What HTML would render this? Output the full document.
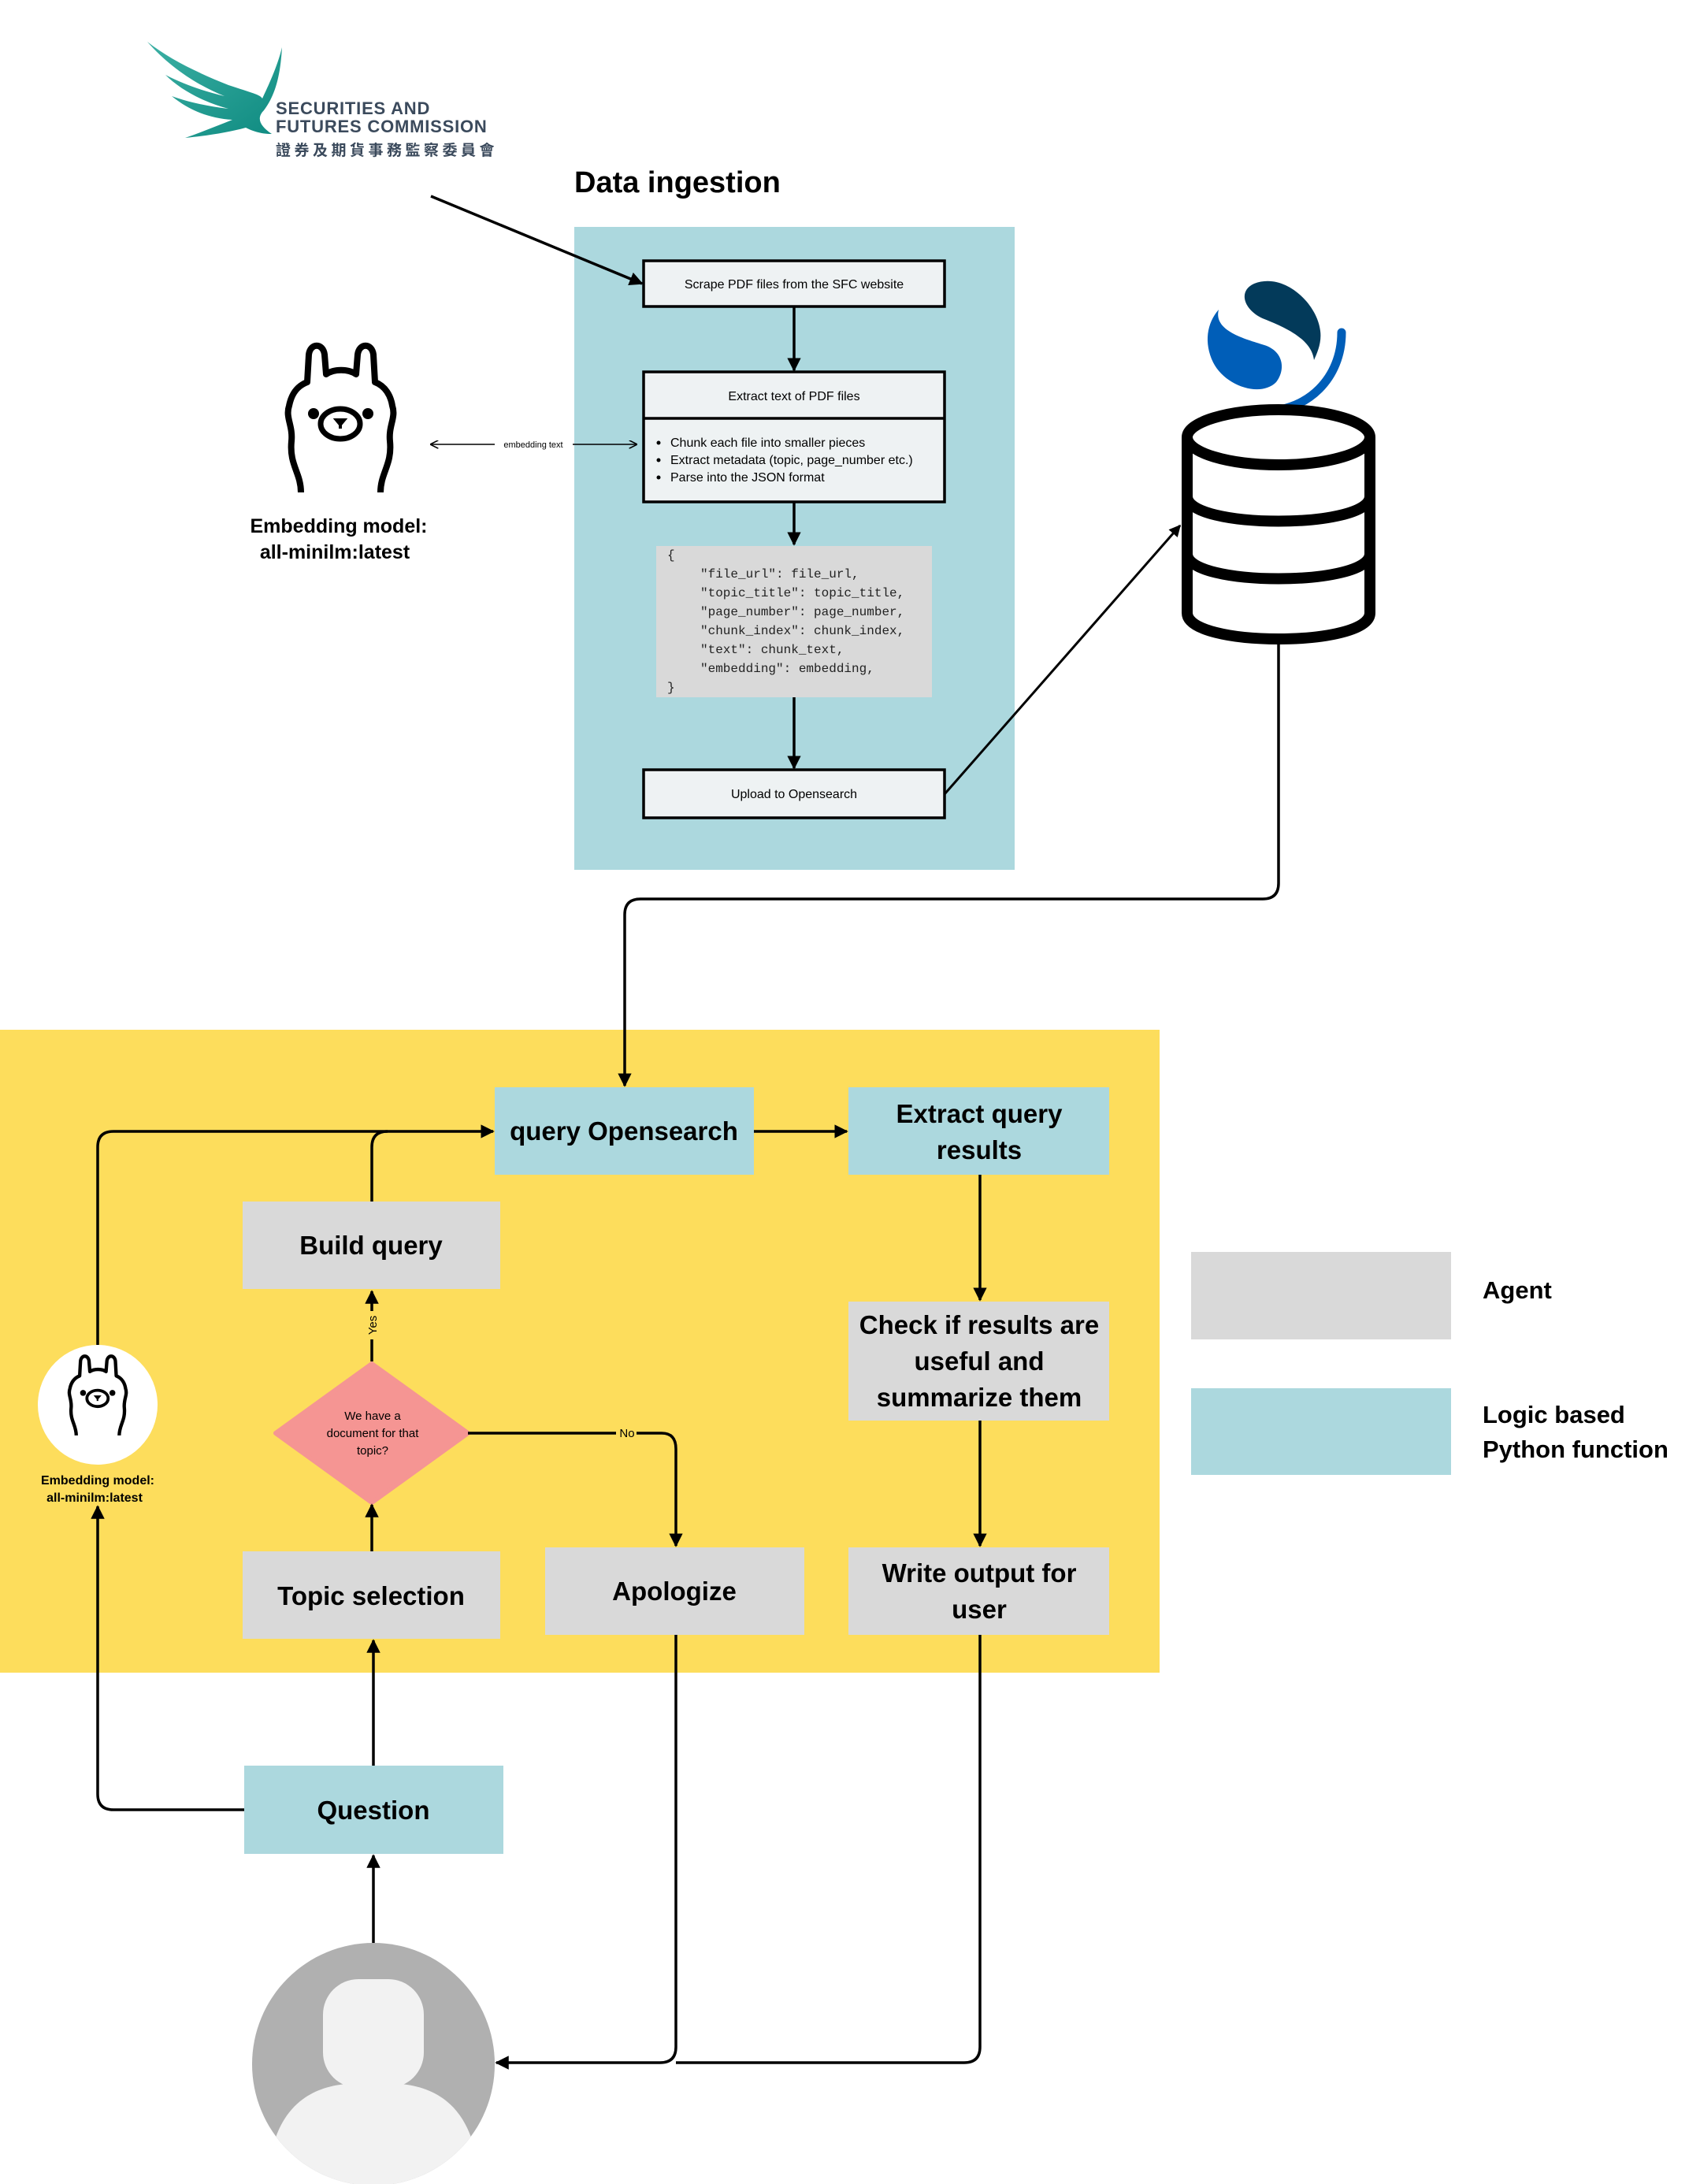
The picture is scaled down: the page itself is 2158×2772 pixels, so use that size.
<!DOCTYPE html>
<html><head><meta charset="utf-8">
<style>
html,body{margin:0;padding:0;background:#fff;}
svg{display:block;}
text{font-family:"Liberation Sans","Noto Sans CJK TC",sans-serif;}
text.mono{font-family:"Liberation Mono",monospace;}
</style></head>
<body>
<svg width="2158" height="2772" viewBox="0 0 2158 2772" xmlns="http://www.w3.org/2000/svg">
<defs>
<marker id="ah" viewBox="0 0 10 10" refX="9" refY="5" markerWidth="5" markerHeight="5" orient="auto-start-reverse">
<path d="M0,0 L10,5 L0,10 z" fill="#000"/></marker>
<marker id="ahs" viewBox="0 0 10 10" refX="9" refY="5" markerWidth="7" markerHeight="7" orient="auto-start-reverse">
<path d="M0,0 L10,5 L0,10" fill="none" stroke="#000" stroke-width="1.5"/></marker>
<linearGradient id="bird" x1="0" y1="0" x2="1" y2="1"><stop offset="0" stop-color="#3cb0a4"/><stop offset="1" stop-color="#0e8a80"/></linearGradient>
<g id="llama">
<path d="M20 185 C20 160,5 150,8 120 C10 100,0 90,5 75 C8 60,15 50,28 45 L30 10 C32 -5,48 -5,50 10 L52 35 C62 28,80 28,90 35 L92 10 C94 -5,110 -5,112 10 L114 45 C127 50,134 62,136 75 C141 90,131 100,133 120 C136 150,121 160,121 185" fill="#fff" stroke="#000" stroke-width="8" stroke-linejoin="round"/>
<circle cx="36" cy="85" r="7"/><circle cx="105" cy="85" r="7"/>
<ellipse cx="70" cy="98" rx="25" ry="19" fill="#fff" stroke="#000" stroke-width="7"/>
<path d="M65 93 L75 93 L70 99 Z M70 96 L70 104" stroke="#000" stroke-width="4"/>
</g>
</defs>

<!-- SFC logo -->
<path d="M187 53 C215 75,250 92,290 108 C320 118,330 120,333 125 C340 110,352 85,358 60 C356 95,350 120,335 140 C325 150,330 160,345 170 C330 170,320 166,312 162 C290 168,265 172,235 175 C255 168,275 160,295 152 C265 150,240 140,218 122 C240 130,265 135,290 138 C260 130,230 115,210 95 C235 108,260 116,285 122 C250 108,215 85,187 53 Z" fill="url(#bird)"/>
<text x="350" y="145" font-size="22" font-weight="bold" fill="#3b4a5c" letter-spacing="0.8">SECURITIES AND</text>
<text x="350" y="168" font-size="22" font-weight="bold" fill="#3b4a5c" letter-spacing="0.8">FUTURES COMMISSION</text>
<text x="350" y="197" font-size="19" font-weight="bold" fill="#3b4a5c" letter-spacing="4.5">證券及期貨事務監察委員會</text>

<text x="729" y="244" font-size="38" font-weight="bold" fill="#000">Data ingestion</text>

<!-- ingestion panel -->
<rect x="729" y="288" width="559" height="816" fill="#acd8de"/>
<line x1="547" y1="249" x2="815" y2="360" stroke="#000" stroke-width="3.5" marker-end="url(#ah)"/>

<rect x="817" y="331" width="382" height="58" fill="#eef2f3" stroke="#000" stroke-width="3.5"/>
<text x="1008" y="366" font-size="16" text-anchor="middle">Scrape PDF files from the SFC website</text>
<line x1="1008" y1="389" x2="1008" y2="470" stroke="#000" stroke-width="3.5" marker-end="url(#ah)"/>

<rect x="817" y="472" width="382" height="165" fill="#eef2f3" stroke="#000" stroke-width="3.5"/>
<line x1="817" y1="531" x2="1199" y2="531" stroke="#000" stroke-width="3.5"/>
<text x="1008" y="508" font-size="16" text-anchor="middle">Extract text of PDF files</text>
<g font-size="16"><circle cx="836" cy="562" r="2.5"/><text x="851" y="567">Chunk each file into smaller pieces</text>
<circle cx="836" cy="584" r="2.5"/><text x="851" y="589">Extract metadata (topic, page_number etc.)</text>
<circle cx="836" cy="606" r="2.5"/><text x="851" y="611">Parse into the JSON format</text></g>
<line x1="1008" y1="637" x2="1008" y2="691" stroke="#000" stroke-width="3.5" marker-end="url(#ah)"/>

<rect x="833" y="693" width="350" height="192" fill="#d9d9d9"/>
<g font-size="16" fill="#222">
<text class="mono" x="847" y="709">{</text>
<text class="mono" x="889" y="733">"file_url": file_url,</text>
<text class="mono" x="889" y="757">"topic_title": topic_title,</text>
<text class="mono" x="889" y="781">"page_number": page_number,</text>
<text class="mono" x="889" y="805">"chunk_index": chunk_index,</text>
<text class="mono" x="889" y="829">"text": chunk_text,</text>
<text class="mono" x="889" y="853">"embedding": embedding,</text>
<text class="mono" x="847" y="877">}</text>
</g>
<line x1="1008" y1="885" x2="1008" y2="975" stroke="#000" stroke-width="3.5" marker-end="url(#ah)"/>

<rect x="817" y="977" width="382" height="61" fill="#eef2f3" stroke="#000" stroke-width="3.5"/>
<text x="1008" y="1013" font-size="16" text-anchor="middle">Upload to Opensearch</text>
<line x1="1199" y1="1008" x2="1498" y2="667" stroke="#000" stroke-width="3" marker-end="url(#ah)"/>

<!-- embedding text arrow -->
<line x1="628" y1="564" x2="547" y2="564" stroke="#000" stroke-width="1.5" marker-end="url(#ahs)"/>
<line x1="727" y1="564" x2="808" y2="564" stroke="#000" stroke-width="1.5" marker-end="url(#ahs)"/>
<text x="677" y="568" font-size="11" text-anchor="middle">embedding text</text>

<!-- llama big -->
<use href="#llama" x="362" y="440"/>
<text x="430" y="676" font-size="25" font-weight="bold" text-anchor="middle">Embedding model:</text>
<text x="425" y="709" font-size="25" font-weight="bold" text-anchor="middle">all-minilm:latest</text>

<!-- opensearch logo -->
<path d="M1592 360 C1630 345,1672 385,1676 420 C1678 435,1672 448,1668 457 C1665 430,1630 415,1605 405 C1580 395,1570 370,1592 360 Z" fill="#033a5a"/>
<path d="M1547 393 C1540 420,1580 430,1605 438 C1630 446,1632 470,1620 485 C1600 505,1555 490,1540 460 C1528 435,1532 410,1547 393 Z" fill="#005eb8"/>
<path d="M1703 422 C1703 480,1660 522,1604 522" fill="none" stroke="#005eb8" stroke-width="11" stroke-linecap="round"/>

<!-- database -->
<g fill="#fff" stroke="#000" stroke-width="14">
<path d="M1507 555 L1507 778 C1507 822,1739 822,1739 778 L1739 555"/>
<ellipse cx="1623" cy="555" rx="116" ry="35"/>
<path d="M1507 630 C1507 672,1739 672,1739 630" fill="none"/>
<path d="M1507 703 C1507 745,1739 745,1739 703" fill="none"/>
</g>

<!-- yellow panel -->
<rect x="0" y="1307" width="1472" height="816" fill="#fddd5c"/>

<!-- connector DB to query -->
<path d="M1623 815 L1623 1121 Q1623 1141 1603 1141 L813 1141 Q793 1141 793 1161 L793 1378" fill="none" stroke="#000" stroke-width="3.5" marker-end="url(#ah)"/>

<g font-weight="bold" font-size="33" text-anchor="middle">
<rect x="628" y="1380" width="329" height="111" fill="#acd8de"/>
<text x="792" y="1447">query Opensearch</text>
<rect x="1077" y="1380" width="331" height="111" fill="#acd8de"/>
<text x="1243" y="1425">Extract query</text><text x="1243" y="1471">results</text>
<rect x="308" y="1525" width="327" height="111" fill="#d9d9d9"/>
<text x="471" y="1592">Build query</text>
<rect x="1077" y="1652" width="331" height="151" fill="#d9d9d9"/>
<text x="1243" y="1693">Check if results are</text><text x="1243" y="1739">useful and</text><text x="1243" y="1785">summarize them</text>
<rect x="308" y="1969" width="327" height="111" fill="#d9d9d9"/>
<text x="471" y="2037">Topic selection</text>
<rect x="692" y="1964" width="329" height="111" fill="#d9d9d9"/>
<text x="856" y="2031">Apologize</text>
<rect x="1077" y="1964" width="331" height="111" fill="#d9d9d9"/>
<text x="1243" y="2008">Write output for</text><text x="1243" y="2054">user</text>
<rect x="310" y="2241" width="329" height="112" fill="#acd8de"/>
<text x="474" y="2309">Question</text>
</g>

<!-- diamond -->
<path d="M472 1731 L594 1819 L472 1907 L350 1819 Z" fill="#f59593" stroke="#f59593" stroke-width="6" stroke-linejoin="round"/>
<g font-size="15" text-anchor="middle"><text x="473" y="1802">We have a</text><text x="473" y="1824">document for that</text><text x="473" y="1846">topic?</text></g>

<!-- connectors lower -->
<g fill="none" stroke="#000" stroke-width="3.5">
<line x1="957" y1="1436" x2="1075" y2="1436" marker-end="url(#ah)"/>
<path d="M124 1707 L124 1456 Q124 1436 144 1436 L626 1436" marker-end="url(#ah)"/>
<path d="M472 1525 L472 1456 Q472 1436 492 1436"/>
<line x1="472" y1="1728" x2="472" y2="1700"/>
<line x1="472" y1="1664" x2="472" y2="1639" marker-end="url(#ah)"/>
<line x1="594" y1="1819" x2="782" y2="1819"/>
<path d="M808 1819 L840 1819 Q858 1819 858 1839 L858 1962" marker-end="url(#ah)"/>
<line x1="472" y1="1969" x2="472" y2="1910" marker-end="url(#ah)"/>
<line x1="474" y1="2241" x2="474" y2="2082" marker-end="url(#ah)"/>
<path d="M310 2297 L144 2297 Q124 2297 124 2277 L124 1912" marker-end="url(#ah)"/>
<line x1="474" y1="2466" x2="474" y2="2355" marker-end="url(#ah)"/>
<line x1="1244" y1="1491" x2="1244" y2="1650" marker-end="url(#ah)"/>
<line x1="1244" y1="1803" x2="1244" y2="1962" marker-end="url(#ah)"/>
<path d="M858 2075 L858 2598 Q858 2618 838 2618 L630 2618" marker-end="url(#ah)"/>
<path d="M1244 2075 L1244 2598 Q1244 2618 1224 2618 L858 2618"/>
</g>
<text x="796" y="1824" font-size="15" text-anchor="middle">No</text>
<text transform="translate(478,1682) rotate(-90)" font-size="15" text-anchor="middle">Yes</text>

<!-- small llama -->
<circle cx="124" cy="1783" r="76" fill="#fff"/>
<use href="#llama" transform="translate(86,1722) scale(0.54)"/>
<g font-size="16" font-weight="bold" text-anchor="middle"><text x="124" y="1884">Embedding model:</text><text x="120" y="1906">all-minilm:latest</text></g>

<!-- user avatar -->
<clipPath id="cc"><circle cx="474" cy="2620" r="154"/></clipPath>
<circle cx="474" cy="2620" r="154" fill="#b0b0b0"/>
<g clip-path="url(#cc)" fill="#f2f2f2">
<rect x="410" y="2512" width="128" height="138" rx="45"/>
<path d="M340 2780 C340 2690,380 2650,440 2645 L508 2645 C568 2650,608 2690,608 2780 Z"/>
</g>

<!-- legend -->
<rect x="1512" y="1589" width="330" height="111" fill="#d9d9d9"/>
<text x="1882" y="1648" font-size="31" font-weight="bold">Agent</text>
<rect x="1512" y="1762" width="330" height="110" fill="#acd8de"/>
<text x="1882" y="1806" font-size="31" font-weight="bold">Logic based</text>
<text x="1882" y="1850" font-size="31" font-weight="bold">Python function</text>
</svg>
</body></html>
